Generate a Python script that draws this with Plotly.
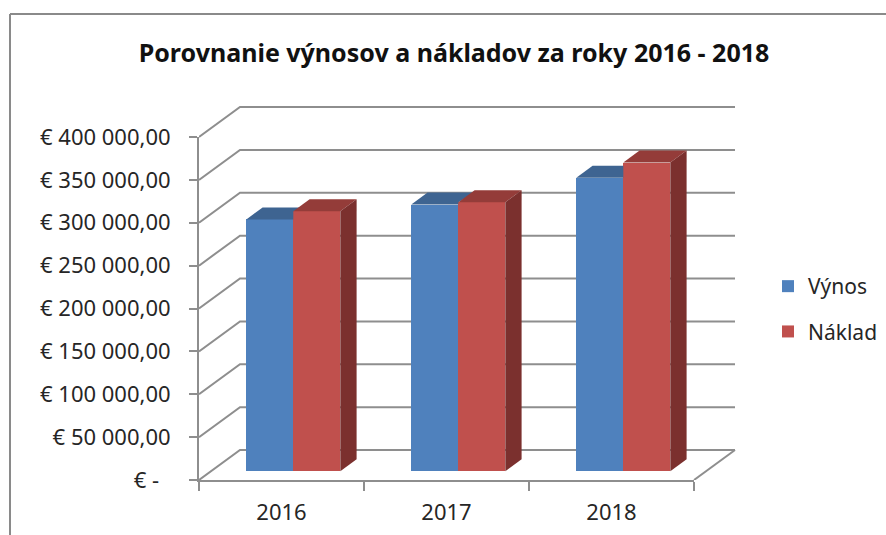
import plotly.graph_objects as go

# ---- data ----
years = ["2016", "2017", "2018"]
vynos = [293700, 311000, 342200]
naklad = [303400, 313700, 360100]
tick_values = [0, 50000, 100000, 150000, 200000, 250000, 300000, 350000, 400000]
tick_labels = ["€ -\u00a0\u00a0", "€ 50 000,00", "€ 100 000,00", "€ 150 000,00", "€ 200 000,00",
               "€ 250 000,00", "€ 300 000,00", "€ 350 000,00", "€ 400 000,00"]

# ---- pseudo-3D projection constants, in axis units ----
W, H = 886, 535
L, R, T, B = 199, 694, 137, 480   # front plane of the chart box
OR, OT = 740, 100                 # outer area that also holds the back wall
YMAX = 400000
XPX = (R - L) / 3        # px per category
YPX = (B - T) / YMAX     # px per euro
wall_dx, wall_dy = 41 / XPX, 30 / YPX      # depth of chart box
bar_dx, bar_dy = 16.3 / XPX, 12 / YPX      # depth of a bar
shift_dx, shift_dy = 11.8 / XPX, 8.7 / YPX  # bars stand inside the floor
bar_w = 47 / XPX

GRID = "#8E8E8E"
TEXT = "#262626"
BLUE, BLUE_TOP = "#4F81BD", "#3E6491"
RED, RED_TOP, RED_SIDE = "#C0504D", "#943C39", "#7B302E"
FONT = "Noto Sans"

fig = go.Figure()

# grid of the back wall and the floor, on the outer subplot (under the bars)
for v in tick_values:
    fig.add_trace(go.Scatter(
        x=[0, wall_dx, 3 + wall_dx], y=[v, v + wall_dy, v + wall_dy],
        mode="lines", line=dict(color=GRID, width=2), hoverinfo="skip",
        showlegend=False))
fig.add_trace(go.Scatter(
    x=[3, 3 + wall_dx], y=[0, wall_dy], mode="lines", line=dict(color=GRID, width=2),
    hoverinfo="skip", showlegend=False))

centers = [i + 0.5 + shift_dx for i in range(len(years))]

# front faces
fig.add_trace(go.Bar(x=centers, y=vynos, base=shift_dy, width=bar_w, offset=-bar_w, name="Výnos",
                     marker=dict(color=BLUE, line=dict(width=0)), xaxis="x2", yaxis="y2",
                     legendgroup="a"))
fig.add_trace(go.Bar(x=centers, y=naklad, base=shift_dy, width=bar_w, offset=0, name="Náklad",
                     marker=dict(color=RED, line=dict(width=0)), xaxis="x2", yaxis="y2",
                     legendgroup="b"))


def face(xs, ys, color):
    fig.add_trace(go.Scatter(x=xs, y=ys, mode="lines", fill="toself", fillcolor=color,
                             line=dict(width=0, color=color), hoverinfo="skip",
                             showlegend=False, xaxis="x2", yaxis="y2"))


for c, a, b in zip(centers, vynos, naklad):
    va, vb = a + shift_dy, b + shift_dy
    back = va + bar_dy
    # blue top: the taller red bar hides the part that lies behind it
    xs = [c - bar_w, c, c]
    ys = [va, va, min(vb, back)]
    if vb < back:
        xs.append(c + bar_dx)
        ys.append(back)
    xs.append(c - bar_w + bar_dx)
    ys.append(back)
    face(xs, ys, BLUE_TOP)
    # red top
    face([c, c + bar_w, c + bar_w + bar_dx, c + bar_dx],
         [vb, vb, vb + bar_dy, vb + bar_dy], RED_TOP)
    # red side
    face([c + bar_w, c + bar_w + bar_dx, c + bar_w + bar_dx, c + bar_w],
         [shift_dy, shift_dy + bar_dy, vb + bar_dy, vb], RED_SIDE)

# paper coordinates are relative to the outer plot area
fx = lambda p: (p - L) / (OR - L)
fy = lambda p: (B - p) / (B - OT)

# outer chart frame (only the left and top edges show in the picture)
frame = dict(type="line", xref="paper", yref="paper", line=dict(color="#8A8A8A", width=2), layer="above")
shapes = [dict(frame, x0=fx(10), x1=fx(10), y0=fy(14), y1=fy(535)),
          dict(frame, x0=fx(10), x1=fx(886), y0=fy(14), y1=fy(14))]

fig.update_layout(
    width=W, height=H, autosize=False,
    margin=dict(l=L, r=W - OR, t=OT, b=H - B, autoexpand=False),
    paper_bgcolor="white", plot_bgcolor="rgba(0,0,0,0)",
    barmode="overlay", bargap=0,
    font=dict(family=FONT, color=TEXT, size=22),
    title=dict(text="<b>Porovnanie výnosov a nákladov za roky 2016 - 2018</b>",
               x=454 / W, xref="container", xanchor="center",
               y=1 - 53 / H, yref="container", yanchor="middle",
               font=dict(family=FONT, size=25, color="#111111")),
    # outer, hidden axes for the wall grid
    xaxis=dict(range=[0, (OR - L) / XPX], visible=False, fixedrange=True),
    yaxis=dict(range=[0, (B - OT) / YPX], visible=False, fixedrange=True),
    # the chart's real axes, on the front plane
    xaxis2=dict(domain=[0, fx(R)], anchor="y2", range=[0, 3], tickmode="array",
                tickvals=[0.5, 1.5, 2.5], ticktext=years,
                ticks="", showgrid=False, zeroline=False, showline=True, linecolor=GRID, linewidth=2,
                minor=dict(tickmode="linear", tick0=0, dtick=1, ticks="outside", ticklen=9,
                           tickcolor=GRID, tickwidth=2, showgrid=False),
                ticklabelstandoff=12, fixedrange=True),
    yaxis2=dict(domain=[0, fy(T)], anchor="x2", range=[0, YMAX], tickmode="array",
                tickvals=tick_values, ticktext=tick_labels,
                ticks="outside", ticklen=8, tickcolor=GRID, tickwidth=2, showgrid=False, zeroline=False,
                showline=True, linecolor=GRID, linewidth=2, ticklabelstandoff=14, fixedrange=True),
    legend=dict(x=fx(768), xanchor="left", y=fy(266), yanchor="top", bgcolor="rgba(0,0,0,0)",
                tracegroupgap=15, font=dict(family=FONT, size=21, color=TEXT), itemclick=False,
                itemdoubleclick=False),
    shapes=shapes,
)

fig.write_html("out.html", config=dict(displayModeBar=False),
               post_script="document.body.style.margin='0';document.documentElement.style.overflow='hidden';")
